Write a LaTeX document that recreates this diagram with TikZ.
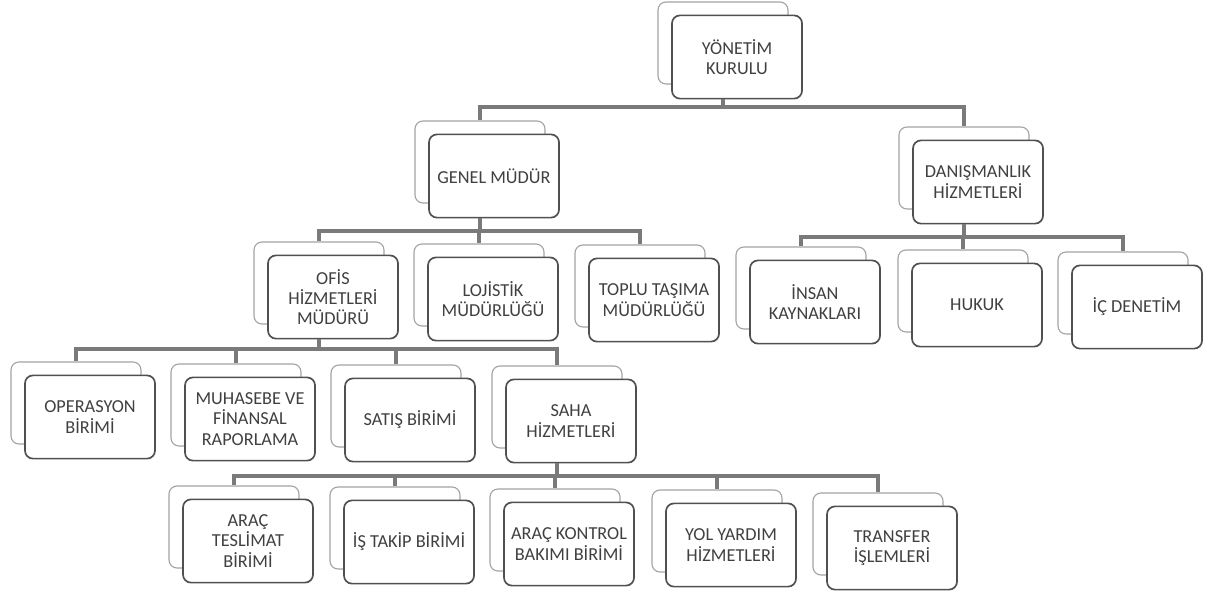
\documentclass[tikz,border=0pt]{standalone}
\usepackage{fontspec}
\setmainfont{Carlito}
\definecolor{boxline}{HTML}{505050}
\definecolor{backline}{HTML}{A3A3A3}
\definecolor{busline}{HTML}{7A7A7A}
\definecolor{label}{HTML}{404040}

\begin{document}
\begin{tikzpicture}[x=0.025cm,y=-0.025cm,
  back/.style={draw=backline,line width=0.8pt,fill=white,rounded corners=0.2cm,minimum width=3.25cm,minimum height=2.05cm},
  front/.style={draw=boxline,line width=1.2pt,fill=white,rounded corners=0.2cm,minimum width=3.25cm,minimum height=2.08cm,align=center,text=label,font=\fontsize{13}{14.5}\selectfont},
  link/.style={draw=busline,line width=3pt}]
  \useasboundingbox (0,0) rectangle (1210,594);

  \node[back] (BoardB) at (723,43) {};
  \node[front] (Board) at ([shift={(14,14)}]BoardB) {YÖNETİM\\KURULU};

  \node[back] (GenelB) at (480,162) {};
  \node[front] (Genel) at ([shift={(14,14)}]GenelB) {GENEL MÜDÜR};
  \node[back] (ConsultB) at (964,168) {};
  \node[front] (Consult) at ([shift={(14,14)}]ConsultB) {DANIŞMANLIK\\HİZMETLERİ};

  \node[back] (OfficeB) at (319,283) {};
  \node[front] (Office) at ([shift={(14,14)}]OfficeB) {OFİS\\HİZMETLERİ\\MÜDÜRÜ};
  \node[back] (LogisticB) at (479,285) {};
  \node[front] (Logistic) at ([shift={(14,14)}]LogisticB) {LOJİSTİK\\MÜDÜRLÜĞÜ};
  \node[back] (TransitB) at (640,286) {};
  \node[front] (Transit) at ([shift={(14,14)}]TransitB) {TOPLU TAŞIMA\\MÜDÜRLÜĞÜ};
  \node[back] (HumanB) at (801,288) {};
  \node[front] (Human) at ([shift={(14,14)}]HumanB) {İNSAN\\KAYNAKLARI};
  \node[back] (LawB) at (963,291) {};
  \node[front] (Law) at ([shift={(14,14)}]LawB) {HUKUK};
  \node[back] (AuditB) at (1123,293) {};
  \node[front] (Audit) at ([shift={(14,14)}]AuditB) {İÇ DENETİM};

  \node[back] (OperationB) at (76,403) {};
  \node[front] (Operation) at ([shift={(14,14)}]OperationB) {OPERASYON\\BİRİMİ};
  \node[back] (AccountingB) at (236,405) {};
  \node[front] (Accounting) at ([shift={(14,14)}]AccountingB) {MUHASEBE VE\\FİNANSAL\\RAPORLAMA};
  \node[back] (SalesB) at (396,406) {};
  \node[front] (Sales) at ([shift={(14,14)}]SalesB) {SATIŞ BİRİMİ};
  \node[back] (FieldB) at (557,407) {};
  \node[front] (Field) at ([shift={(14,14)}]FieldB) {SAHA\\HİZMETLERİ};

  \node[back] (DeliveryB) at (234,527) {};
  \node[front] (Delivery) at ([shift={(14,14)}]DeliveryB) {ARAÇ\\TESLİMAT\\BİRİMİ};
  \node[back] (TrackingB) at (395,528) {};
  \node[front] (Tracking) at ([shift={(14,14)}]TrackingB) {İŞ TAKİP BİRİMİ};
  \node[back] (MaintenanceB) at (555,530) {};
  \node[front] (Maintenance) at ([shift={(14,14)}]MaintenanceB) {ARAÇ KONTROL\\BAKIMI BİRİMİ};
  \node[back] (RoadsideB) at (717,531) {};
  \node[front] (Roadside) at ([shift={(14,14)}]RoadsideB) {YOL YARDIM\\HİZMETLERİ};
  \node[back] (TransferB) at (878,534) {};
  \node[front] (Transfer) at ([shift={(14,14)}]TransferB) {TRANSFER\\İŞLEMLERİ};

  \coordinate (BusBoard) at (0,107);
  \coordinate (BusGenel) at (0,231);
  \coordinate (BusConsult) at (0,237);
  \coordinate (BusOffice) at (0,349);
  \coordinate (BusField) at (0,476);

  \draw[link] (Board.south -| BoardB) -- (BoardB |- BusBoard) -| (GenelB.north);
  \draw[link] (Board.south -| BoardB) -- (BoardB |- BusBoard) -| (ConsultB.north);
  \draw[link] (Genel.south -| GenelB) -- (GenelB |- BusGenel) -| (OfficeB.north);
  \draw[link] (Genel.south -| GenelB) -- (GenelB |- BusGenel) -| (LogisticB.north);
  \draw[link] (Genel.south -| GenelB) -- (GenelB |- BusGenel) -| (TransitB.north);
  \draw[link] (Consult.south -| ConsultB) -- (ConsultB |- BusConsult) -| (HumanB.north);
  \draw[link] (Consult.south -| ConsultB) -- (ConsultB |- BusConsult) -| (LawB.north);
  \draw[link] (Consult.south -| ConsultB) -- (ConsultB |- BusConsult) -| (AuditB.north);
  \draw[link] (Office.south -| OfficeB) -- (OfficeB |- BusOffice) -| (OperationB.north);
  \draw[link] (Office.south -| OfficeB) -- (OfficeB |- BusOffice) -| (AccountingB.north);
  \draw[link] (Office.south -| OfficeB) -- (OfficeB |- BusOffice) -| (SalesB.north);
  \draw[link] (Office.south -| OfficeB) -- (OfficeB |- BusOffice) -| (FieldB.north);
  \draw[link] (Field.south -| FieldB) -- (FieldB |- BusField) -| (DeliveryB.north);
  \draw[link] (Field.south -| FieldB) -- (FieldB |- BusField) -| (TrackingB.north);
  \draw[link] (Field.south -| FieldB) -- (FieldB |- BusField) -| (MaintenanceB.north);
  \draw[link] (Field.south -| FieldB) -- (FieldB |- BusField) -| (RoadsideB.north);
  \draw[link] (Field.south -| FieldB) -- (FieldB |- BusField) -| (TransferB.north);
\end{tikzpicture}
\end{document}
